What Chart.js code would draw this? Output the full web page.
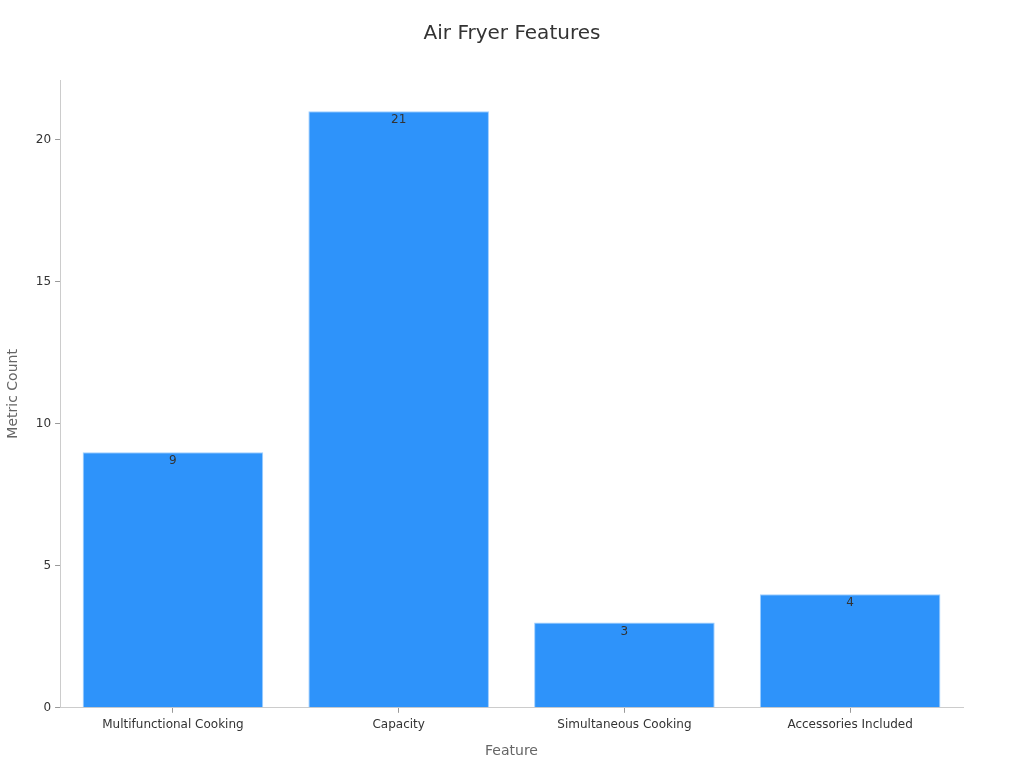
<!DOCTYPE html>
<html>
<head>
<meta charset="utf-8">
<script src="https://cdn.jsdelivr.net/npm/chart.js@4.4.0/dist/chart.umd.min.js"></script>
<style>
  html, body { margin: 0; padding: 0; background: #fff; }
  #wrap { width: 1024px; height: 768px; }
</style>
</head>
<body>
<div id="wrap"><canvas id="chart" width="1024" height="768"></canvas></div>
<script>
const categories = ['Multifunctional Cooking', 'Capacity', 'Simultaneous Cooking', 'Accessories Included'];
const counts = [9, 21, 3, 4];
const yTicks = [0, 5, 10, 15, 20];
const chartTitle = 'Air Fryer Features';

// draws the value just under the top of each bar, and the title centred on the page
const extras = {
  id: 'extras',
  afterDatasetsDraw(chart) {
    const ctx = chart.ctx;
    ctx.save();
    ctx.font = '12px "DejaVu Sans"';
    ctx.fillStyle = '#333';
    ctx.textAlign = 'center';
    ctx.textBaseline = 'middle';
    chart.getDatasetMeta(0).data.forEach((bar, i) => {
      ctx.fillText(String(counts[i]), bar.x, bar.y + 9);
    });
    ctx.font = '20px "DejaVu Sans"';
    ctx.fillText(chartTitle, chart.width / 2, 34);
    ctx.restore();
  }
};

Chart.defaults.font.family = '"DejaVu Sans", sans-serif';

new Chart(document.getElementById('chart'), {
  type: 'bar',
  data: {
    labels: categories,
    datasets: [{
      label: 'Metric Count',
      data: counts,
      backgroundColor: '#2E93FA',
      borderColor: '#9fcfff',
      borderWidth: 1,
      barPercentage: 0.8,
      categoryPercentage: 1.0
    }]
  },
  options: {
    responsive: false,
    animation: false,
    layout: { padding: { left: 1, right: 61, top: 80, bottom: 4 } },
    plugins: {
      legend: { display: false },
      tooltip: { enabled: false },
      title: { display: false }
    },
    scales: {
      x: {
        grid: { display: true, offset: false, drawOnChartArea: false, drawTicks: true, tickLength: 5, color: '#999' },
        border: { color: '#ccc' },
        ticks: { color: '#333', font: { size: 12 }, padding: 5 },
        title: { display: true, text: 'Feature', color: '#666', font: { size: 14 }, padding: { top: 6 } }
      },
      y: {
        min: 0,
        max: 22.1,
        afterBuildTicks: (axis) => { axis.ticks = yTicks.map(v => ({ value: v })); },
        grid: { display: true, drawOnChartArea: false, drawTicks: true, tickLength: 5, color: '#999' },
        border: { color: '#ccc' },
        ticks: { color: '#333', font: { size: 12 }, padding: 4 },
        title: { display: true, text: 'Metric Count', color: '#666', font: { size: 14 }, padding: { bottom: 10 } }
      }
    }
  },
  plugins: [extras]
});
</script>
</body>
</html>
